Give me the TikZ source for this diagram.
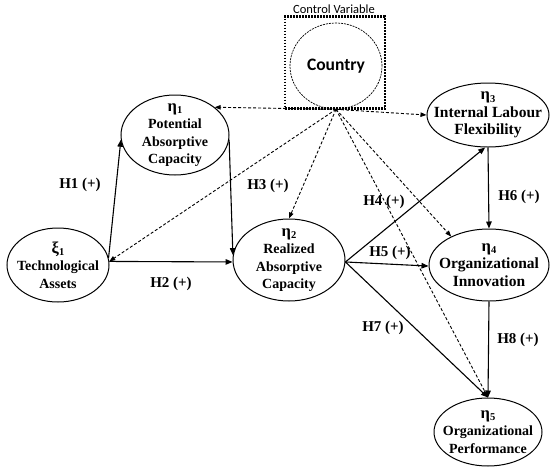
\documentclass[tikz,border=0pt]{standalone}
\usepackage{fontspec}
\setmainfont{Liberation Serif}
\newfontfamily\calib{Carlito}
\usetikzlibrary{shapes.geometric,arrows.meta}
\newcommand\grk[2]{{\fontsize{16.5}{16.5}\selectfont #1}\raisebox{-2.5pt}{\fontsize{10.5}{10.5}\selectfont #2}}
\begin{document}
\begin{tikzpicture}[x=1pt,y=-1pt,
  lat/.style={draw, ellipse, line width=1pt, inner sep=0pt},
  txt/.style={align=center, font=\bfseries\fontsize{14}{17.5}\selectfont, inner sep=0pt},
  txtb/.style={align=center, font=\bfseries\fontsize{15.5}{17.5}\selectfont, inner sep=0pt},
  hyp/.style={font=\bfseries\fontsize{15}{18}\selectfont, inner sep=0pt},
  arr/.style={line width=1.1pt, -{Triangle[length=7pt,width=5.5pt]}},
  ctl/.style={dash pattern=on 3pt off 2pt, line width=0.9pt, -{Triangle[length=6pt,width=4.5pt]}},
]
\useasboundingbox (0,0) rectangle (550,472);
% control variable
\node[draw, line width=2.3pt, dash pattern=on 1.6pt off 1.4pt, minimum width=100, minimum height=92, inner sep=0pt] (cvbox) at (335,62.5) {};
\node[font=\calib\fontsize{12.5}{14}\selectfont, inner sep=0pt] (cvl) at (334,9) {Control Variable};
\node[draw, ellipse, dash pattern=on 2pt off 1pt, line width=0.7pt, minimum width=92, minimum height=86, inner sep=0pt,
  label={[font=\calib\bfseries\fontsize{17.5}{20}\selectfont]center:Country}] (cty) at (336,66) {};
% latent variables
\node[lat, minimum width=108, minimum height=80, label={[txt]center:{\grk{η}{1}\\Potential\\Absorptive\\Capacity}}] (p1) at (175,135) {};
\node[lat, minimum width=102, minimum height=74, label={[txt]center:{\grk{ξ}{1}\\Technological\\Assets}}] (xi) at (58,265) {};
\node[lat, minimum width=112, minimum height=82, label={[txt]center:{\grk{η}{2}\\Realized\\Absorptive\\Capacity}}] (r2) at (289,260) {};
\node[lat, minimum width=122, minimum height=64, label={[txtb]center:{\grk{η}{3}\\Internal Labour\\Flexibility}}] (i3) at (488,115) {};
\node[lat, minimum width=120, minimum height=72, label={[txtb]center:{\grk{η}{4}\\Organizational\\Innovation}}] (o4) at (489,265) {};
\node[lat, minimum width=108, minimum height=68, label={[txt]center:{\grk{η}{5}\\Organizational\\Performance}}] (p5) at (488,432) {};
% hypotheses
\draw[arr] (xi.8) -- (p1.185);
\draw[arr] (p1.-5) -- (r2.175);
\draw[arr] (xi.4) -- (r2.182);
\draw[arr] (r2.-2) -- (i3.265);
\draw[arr] (r2.-2) -- (o4.181);
\draw[arr] (r2.-2) -- (p5.north);
\draw[arr] (i3.south) -- (o4.north);
\draw[arr] (o4.south) -- (p5.north);
% control paths
\draw[ctl] (cty.south) -- (p1.35);
\draw[ctl] (cty.south) -- (i3.west);
\draw[ctl] (cty.south) -- (xi.4);
\draw[ctl] (cty.south) -- (r2.north);
\draw[ctl] (cty.south) -- (o4.143);
\draw[ctl] (cty.south) -- (p5.north);
% labels
\node[hyp] (h1) at (80,185) {H1 (+)};
\node[hyp] (h2) at (171,284) {H2 (+)};
\node[hyp] (h3) at (268,186) {H3 (+)};
\node[hyp] (h4) at (384,202) {H4 (+)};
\node[hyp] (h5) at (390,253) {H5 (+)};
\node[hyp] (h6) at (519,197) {H6 (+)};
\node[hyp] (h7) at (383,328) {H7 (+)};
\node[hyp] (h8) at (518,340) {H8 (+)};
\end{tikzpicture}
\end{document}
